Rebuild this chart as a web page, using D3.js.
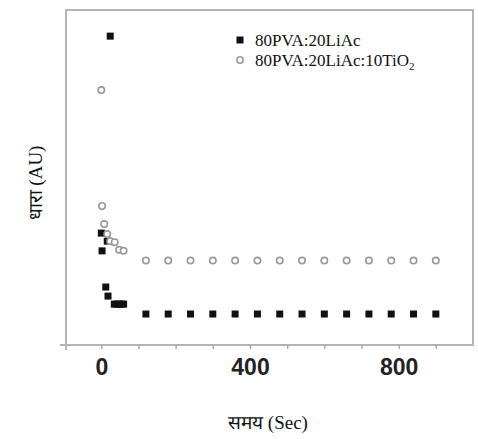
<!DOCTYPE html>
<html>
<head>
<meta charset="utf-8">
<script src="https://cdn.jsdelivr.net/npm/d3@7"></script>
<style>
  body { margin: 0; background: #fff; }
  svg { display: block; }
</style>
</head>
<body>
<script>
// time (s) and current (AU)
var pureTime = [0, 2, 16, 24, 12, 18, 35, 42, 48, 54, 60,
    120, 180, 240, 300, 360, 420, 480, 540, 600, 660, 720, 780, 840, 900];
var pureCurrent = [33.4, 28.1, 31.0, 92.2, 17.3, 14.6, 12.2, 12.2, 12.2, 12.2, 12.2,
    9.25, 9.25, 9.25, 9.25, 9.25, 9.25, 9.25, 9.25, 9.25, 9.25, 9.25, 9.25, 9.25, 9.25];
var tioTime = [0, 2, 8, 16, 24, 36, 48, 60,
    120, 180, 240, 300, 360, 420, 480, 540, 600, 660, 720, 780, 840, 900];
var tioCurrent = [76.1, 41.5, 36.1, 33.1, 31.0, 30.7, 28.4, 28.1,
    25.2, 25.2, 25.2, 25.2, 25.2, 25.2, 25.2, 25.2, 25.2, 25.2, 25.2, 25.2, 25.2, 25.2];
var xTickLabels = [0, 400, 800];
var xMinorTicks = [0, 100, 200, 300, 400, 500, 600, 700, 800, 900];
var seriesNames = ["80PVA:20LiAc", "80PVA:20LiAc:10TiO"];

(function drawChart () {
    "use strict";
    var width = 478, height = 439,
        left = 66, right = 473, top = 10, bottom = 345,
        axisGray = "#b4b4b4";

    var svg = d3.select("body").append("svg")
        .attr("width", width)
        .attr("height", height);

    var x = d3.scaleLinear().domain([-95, 1000]).range([left, right]);
    var y = d3.scaleLinear().domain([0, 100]).range([bottom, top]);

    // frame
    svg.append("rect")
        .attr("x", left).attr("y", top)
        .attr("width", right - left).attr("height", bottom - top)
        .attr("fill", "none")
        .attr("stroke", axisGray)
        .attr("stroke-width", 2);
    svg.append("line")
        .attr("x1", 60).attr("x2", left)
        .attr("y1", bottom).attr("y2", bottom)
        .attr("stroke", axisGray).attr("stroke-width", 2);
    svg.append("line")
        .attr("x1", left).attr("x2", left)
        .attr("y1", bottom).attr("y2", bottom + 5)
        .attr("stroke", axisGray).attr("stroke-width", 2);

    // bottom axis: small ticks every 100, labels at 0/400/800
    var xAxis = d3.axisBottom(x)
        .tickValues(xMinorTicks)
        .tickSize(4)
        .tickFormat(function (d) { return xTickLabels.indexOf(d) >= 0 ? d : ""; });
    var gx = svg.append("g")
        .attr("transform", "translate(0," + bottom + ")")
        .call(xAxis);
    gx.select(".domain").remove();
    gx.selectAll(".tick line").attr("stroke", "#aaa").attr("stroke-width", 1.5);
    gx.selectAll(".tick text")
        .attr("y", 14)
        .attr("dy", "0.71em")
        .attr("fill", "#222")
        .style("font-family", "'Liberation Sans', Arial, sans-serif")
        .style("font-weight", "bold")
        .style("font-size", "23px");

    // axis titles
    svg.append("text")
        .attr("x", 268).attr("y", 429)
        .attr("text-anchor", "middle")
        .style("font-family", "'Liberation Serif', 'Times New Roman', serif")
        .style("font-size", "19px")
        .attr("fill", "#111")
        .text("समय (Sec)");
    svg.append("text")
        .attr("transform", "translate(42,183) rotate(-90)")
        .attr("text-anchor", "middle")
        .style("font-family", "'Liberation Serif', 'Times New Roman', serif")
        .style("font-size", "19px")
        .attr("fill", "#111")
        .text("धारा (AU)");

    // series 1: filled squares
    var sq = 7;
    svg.append("g").selectAll("rect")
        .data(d3.zip(pureTime, pureCurrent))
        .enter().append("rect")
        .attr("x", function (d) { return x(d[0]) - sq / 2; })
        .attr("y", function (d) { return y(d[1]) - sq / 2; })
        .attr("width", sq).attr("height", sq)
        .attr("fill", "#111");

    // series 2: open circles
    svg.append("g").selectAll("circle")
        .data(d3.zip(tioTime, tioCurrent))
        .enter().append("circle")
        .attr("cx", function (d) { return x(d[0]); })
        .attr("cy", function (d) { return y(d[1]); })
        .attr("r", 3.2)
        .attr("fill", "#fff")
        .attr("stroke", "#999")
        .attr("stroke-width", 1.6);

    // legend
    var lg = svg.append("g").attr("transform", "translate(240,40)");
    lg.append("rect")
        .attr("x", -sq / 2).attr("y", -sq / 2)
        .attr("width", sq).attr("height", sq)
        .attr("fill", "#111");
    lg.append("circle")
        .attr("cx", 0).attr("cy", 20).attr("r", 3.2)
        .attr("fill", "#fff").attr("stroke", "#999").attr("stroke-width", 1.6);
    var legendFont = "'Liberation Serif', 'Times New Roman', serif";
    lg.append("text")
        .attr("x", 15).attr("y", 6)
        .style("font-family", legendFont).style("font-size", "17px")
        .attr("fill", "#111")
        .text(seriesNames[0]);
    var t2 = lg.append("text")
        .attr("x", 15).attr("y", 26)
        .style("font-family", legendFont).style("font-size", "17px")
        .attr("fill", "#111")
        .text(seriesNames[1]);
    t2.append("tspan")
        .attr("dy", 4)
        .style("font-size", "11px")
        .text("2");
})();
</script>
</body>
</html>
